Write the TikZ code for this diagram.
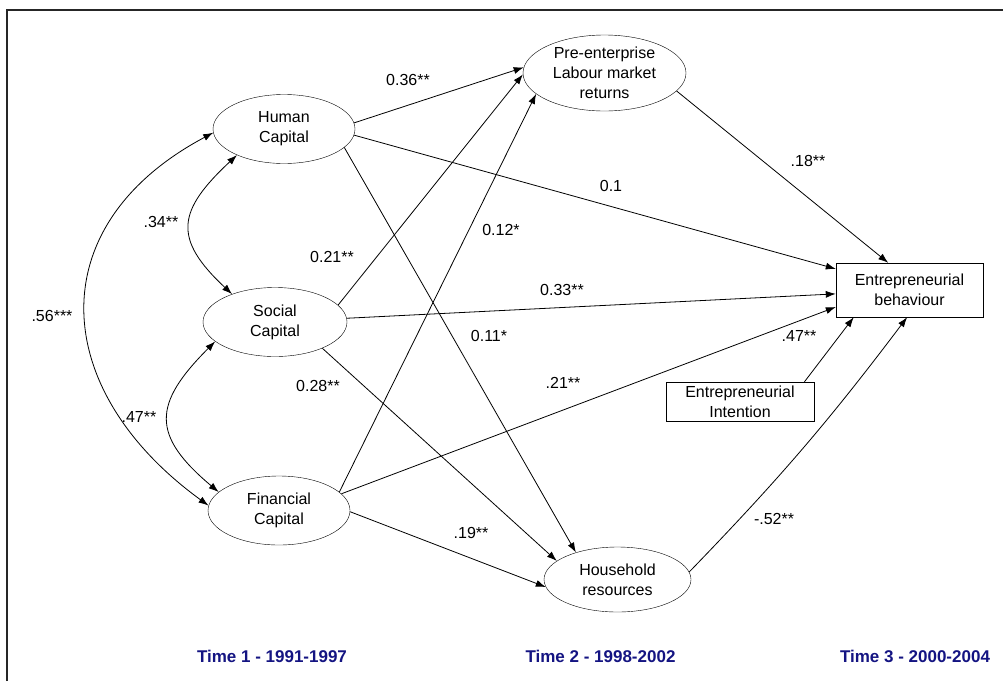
\documentclass[tikz,border=0pt]{standalone}
\usepackage{fontspec}
\setmainfont{Liberation Sans}
\usetikzlibrary{shapes.geometric,arrows.meta}
\definecolor{timeblue}{RGB}{20,20,130}
\tikzset{
  latent/.style={draw,ellipse,inner sep=0pt,align=center},
  observed/.style={draw,rectangle,inner sep=0pt,align=center},
  effect/.style={-{Latex[length=10pt,width=7pt]},line width=0.8pt},
  corr/.style={{Latex[length=10pt,width=7pt]}-{Latex[length=10pt,width=7pt]},line width=0.8pt},
  coef/.style={inner sep=0pt},
  period/.style={inner sep=0pt,text=timeblue,font=\fontsize{17}{20}\selectfont\bfseries}
}
\begin{document}
\begin{tikzpicture}[x=1pt,y=1pt,font=\fontsize{16}{20}\selectfont]
\useasboundingbox (0,0) rectangle (1003,-681);
\draw[line width=2pt,black!85] (7,-681) -- (7,-10) -- (1003,-10);

\node[latent,minimum width=142pt,minimum height=69pt] (hum) at (284,-129) {Human\\Capital};
\node[latent,minimum width=144pt,minimum height=69pt] (soc) at (275,-322) {Social\\Capital};
\node[latent,minimum width=142pt,minimum height=69pt] (fin) at (279,-510.5) {Financial\\Capital};
\node[latent,minimum width=163pt,minimum height=76pt] (pre) at (604.5,-73) {Pre-enterprise\\Labour market\\returns};
\node[latent,minimum width=147pt,minimum height=65pt] (hou) at (617.5,-579.5) {Household\\resources};
\node[observed,minimum width=147pt,minimum height=54pt] (eb) at (909.5,-290) {Entrepreneurial\\behaviour};
\node[observed,minimum width=148pt,minimum height=39pt] (ei) at (740,-401.5) {Entrepreneurial\\Intention};

\draw[effect] (hum.5) -- (pre.176);
\draw[effect] (soc.15) -- (pre.181);
\draw[effect] (fin.17) -- (pre.197);
\draw[effect] (hum.-5) -- (eb.164);
\draw[effect] (pre.-14) -- (eb.128);
\draw[effect] (soc.3) -- (eb.183);
\draw[effect] (fin.15) -- (eb.193);
\draw[effect] (ei.17) -- (eb.206);
\draw[effect] (hou.6) to[bend right=3.5] (eb.265);
\draw[effect] (hum.-17) -- (hou.147);
\draw[effect] (soc.-29) -- (hou.163);
\draw[effect] (fin.-1) -- (hou.186);

\draw[corr] (hum.209) to[out=223,in=137,looseness=1.5] (soc.147);
\draw[corr] (soc.198) to[out=225,in=140,looseness=1.5] (fin.163);
\draw[corr] (hum.183) to[out=208,in=144,looseness=1.35] (fin.176);

\node[coef] (c1) at (408,-80) {0.36**};
\node[coef] (c2) at (161,-222) {.34**};
\node[coef] (c3) at (332,-257) {0.21**};
\node[coef] (c4) at (52,-316) {.56***};
\node[coef] (c5) at (501,-230) {0.12*};
\node[coef] (c6) at (611,-186) {0.1};
\node[coef] (c7) at (808,-161) {.18**};
\node[coef] (c8) at (562,-290) {0.33**};
\node[coef] (c9) at (489,-336) {0.11*};
\node[coef] (c10) at (318,-386) {0.28**};
\node[coef] (c11) at (139,-417) {.47**};
\node[coef] (c12) at (563,-383) {.21**};
\node[coef] (c13) at (799,-336) {.47**};
\node[coef] (c14) at (471,-533) {.19**};
\node[coef] (c15) at (774,-519) {-.52**};

\node[period] (t1) at (272,-656) {Time 1 - 1991-1997};
\node[period] (t2) at (600.5,-656) {Time 2 - 1998-2002};
\node[period] (t3) at (915,-656) {Time 3 - 2000-2004};
\end{tikzpicture}
\end{document}
